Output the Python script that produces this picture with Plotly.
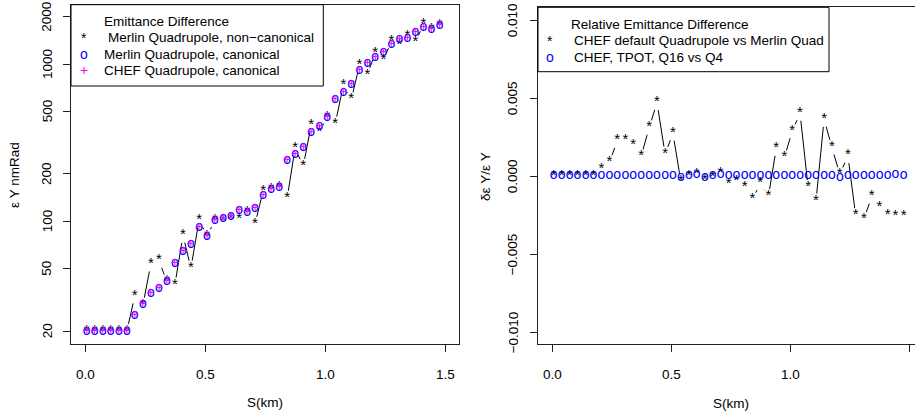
import math
import plotly.graph_objects as go

W, H = 915, 415
FONT = "Liberation Sans, Arial, Helvetica, sans-serif"

# ---------------- data ----------------
s_km = [0.006, 0.039, 0.073, 0.106, 0.140, 0.173, 0.206, 0.240, 0.273, 0.307,
        0.340, 0.373, 0.407, 0.440, 0.474, 0.507, 0.540, 0.574, 0.607, 0.641,
        0.674, 0.707, 0.741, 0.774, 0.808, 0.841, 0.874, 0.908, 0.941, 0.975,
        1.008, 1.041, 1.075, 1.108, 1.142, 1.175, 1.208, 1.242, 1.275, 1.309,
        1.342, 1.375, 1.409, 1.442, 1.476]

merlin_noncanonical = [20, 20, 20, 20, 20, 20, 33.5, 29.4, 53.5, 56.2,
                       41.4, 39.4, 81.4, 50.5, 101.8, 80.6, 101.4, 100.3, 103, 102.4,
                       113.9, 96, 156.4, 160, 164, 140.4, 291.6, 224.2, 408, 368.7,
                       460, 416, 729, 594, 977, 853, 1177, 1056, 1394, 1322,
                       1500, 1374, 1787, 1653, 1754]

merlin_canonical = [20, 20, 20, 20, 20, 20, 25.3, 29.4, 35.0, 37.3,
                    41.4, 54.0, 64.7, 71.0, 91.0, 80.6, 101.4, 104.8, 108, 117.3,
                    113.9, 121.3, 146, 160, 164, 245, 266, 296, 369, 403,
                    460, 594, 655, 736, 904, 1006, 1103, 1181, 1322, 1428,
                    1456, 1576, 1695, 1653, 1754]

chef_canonical = [20, 20, 20, 20, 20, 20, 25.3, 29.4, 35.0, 37.3,
                  41.4, 54.0, 64.7, 71.0, 91.0, 80.6, 101.4, 104.8, 108, 117.3,
                  113.9, 121.3, 146, 160, 164, 245, 266, 296, 369, 403,
                  460, 594, 655, 736, 904, 1006, 1103, 1181, 1322, 1428,
                  1456, 1576, 1695, 1653, 1754]

rel_chef_default_vs_merlin = [0, 0, 0, 0, 0, 0, 0.00043, 0.00087, 0.00226, 0.00226,
                              0.00198, 0.00124, 0.00311, 0.0047, 0.00141, 0.00274, -0.00034, 0.0, 0.00013, -0.00026,
                              -0.0001, 0.0002, -0.0005, -0.00036, -0.00073, -0.0015, -0.00047, -0.00132, 0.00177, 0.00117,
                              0.00288, 0.00402, -0.00075, -0.0016, 0.00363, 0.00184, 0.0001, 0.0013, -0.00254, -0.00278,
                              -0.00132, -0.00203, -0.00254, -0.00256, -0.0026]

rel_tpot_q16_vs_q4 = [0, 0, 0, 0, 0, 0, 0, 0, 0, 0,
                      0.00005, 0, 0, 0, 0, 0, -0.0001, 0, 0.00012, -0.0001,
                      0, 0.0001, 0, 0, 0, 0, 0, 0, 0, 0,
                      0, 0, 0, 0, 0, 0, -0.0001, 0, 0, 0,
                      0, 0, 0, 0.0001, 0]

x_tickvals = [0.0, 0.5, 1.0, 1.5]
x_ticktext = ["0.0", "0.5", "1.0", "1.5"]
left_yticks = [20, 50, 100, 200, 500, 1000, 2000]
left_yticktext = ["20", "50", "100", "200", "500", "1000", "2000"]
right_yticks = [0.01, 0.005, 0.0, -0.005, -0.01]
right_yticktext = ["0.010", "0.005", "0.000", "\u22120.005", "\u22120.010"]

left_legend = ["Emittance Difference", "Merlin Quadrupole, non\u2212canonical",
               "Merlin Quadrupole, canonical", "CHEF Quadrupole, canonical"]
right_legend = ["Relative Emittance Difference", "CHEF default Quadrupole vs Merlin Quad",
                "CHEF, TPOT, Q16 vs Q4"]

# ---------------- geometry (pixels) ----------------
LP = dict(x0=71.0, x1=459.0, y0=4.7, y1=344.3, xr=(-0.0596, 1.557), yr=(1.2184, 3.377))
RP = dict(x0=537.7, x1=915.0, y0=7.3, y1=344.3, xr=(-0.0613, 1.524), yr=(-0.010788, 0.010814))


def fx(px):
    return px / W


def fy(py):
    return 1 - py / H


def gapped(xs, ys, P, logy, gap=7.5):
    """R type='b' lines: segments shortened by a gap at each point."""
    ppx = (P["x1"] - P["x0"]) / (P["xr"][1] - P["xr"][0])
    ppy = (P["y1"] - P["y0"]) / (P["yr"][1] - P["yr"][0])
    X, Y = [], []
    for i in range(len(xs) - 1):
        ya = math.log10(ys[i]) if logy else ys[i]
        yb = math.log10(ys[i + 1]) if logy else ys[i + 1]
        dx = (xs[i + 1] - xs[i]) * ppx
        dy = (yb - ya) * ppy
        d = math.hypot(dx, dy)
        if d > 2 * gap:
            f = gap / d
            ax, ay = xs[i] + f * (xs[i + 1] - xs[i]), ya + f * (yb - ya)
            bx, by = xs[i + 1] - f * (xs[i + 1] - xs[i]), yb - f * (yb - ya)
            if logy:
                ay, by = 10 ** ay, 10 ** by
            X += [ax, bx, None]
            Y += [ay, by, None]
    return X, Y


fig = go.Figure()

# ---------- left panel ----------
lx, ly = gapped(s_km, merlin_noncanonical, LP, True)
fig.add_trace(go.Scatter(x=lx, y=ly, mode="lines", line=dict(color="black", width=1),
                         xaxis="x", yaxis="y", hoverinfo="skip", showlegend=False))
fig.add_trace(go.Scatter(x=s_km, y=merlin_noncanonical, mode="text", text=["*"] * len(s_km),
                         textfont=dict(family=FONT, size=15, color="black"),
                         xaxis="x", yaxis="y", showlegend=False))
fig.add_trace(go.Scatter(x=s_km, y=merlin_canonical, mode="text", text=["o"] * len(s_km),
                         textfont=dict(family=FONT, size=14, color="#0000FF"),
                         xaxis="x", yaxis="y", showlegend=False))
fig.add_trace(go.Scatter(x=s_km, y=chef_canonical, mode="text", text=["+"] * len(s_km),
                         textfont=dict(family=FONT, size=14, color="#FF00FF"),
                         xaxis="x", yaxis="y", showlegend=False))

# ---------- right panel ----------
rx, ry = gapped(s_km, rel_chef_default_vs_merlin, RP, False)
fig.add_trace(go.Scatter(x=rx, y=ry, mode="lines", line=dict(color="black", width=1),
                         xaxis="x2", yaxis="y2", hoverinfo="skip", showlegend=False))
fig.add_trace(go.Scatter(x=s_km, y=rel_chef_default_vs_merlin, mode="text", text=["*"] * len(s_km),
                         textfont=dict(family=FONT, size=15, color="black"),
                         xaxis="x2", yaxis="y2", showlegend=False))
fig.add_trace(go.Scatter(x=s_km, y=rel_tpot_q16_vs_q4, mode="text", text=["o"] * len(s_km),
                         textfont=dict(family=FONT, size=14, color="#0000FF"),
                         xaxis="x2", yaxis="y2", showlegend=False))

axis_common = dict(showgrid=False, zeroline=False, showline=True, linecolor="#222222",
                   linewidth=1.2, ticks="outside", ticklen=7, tickwidth=1, tickcolor="#222222",
                   tickfont=dict(family=FONT, size=13.5, color="black"))

fig.update_layout(
    width=W, height=H, margin=dict(l=0, r=0, t=0, b=0),
    paper_bgcolor="white", plot_bgcolor="white", showlegend=False,
    xaxis=dict(domain=[fx(LP["x0"]), fx(LP["x1"])], range=list(LP["xr"]), anchor="y",
               tickvals=x_tickvals, ticktext=x_ticktext, mirror=True,
               ticklabelstandoff=10, **axis_common),
    yaxis=dict(domain=[fy(LP["y1"]), fy(LP["y0"])], type="log", range=list(LP["yr"]), anchor="x",
               tickvals=left_yticks, showticklabels=False, mirror=True, **axis_common),
    xaxis2=dict(domain=[fx(RP["x0"]), fx(RP["x1"])], range=list(RP["xr"]), anchor="y2",
                tickvals=x_tickvals, ticktext=x_ticktext, mirror=True,
                ticklabelstandoff=10, **axis_common),
    yaxis2=dict(domain=[fy(RP["y1"]), fy(RP["y0"])], range=list(RP["yr"]), anchor="x2",
                tickvals=right_yticks, showticklabels=False, mirror=False, **axis_common),
)

annotations = []
shapes = []


def ann(px, py, text, size=13.5, color="black", xanchor="center", angle=0):
    annotations.append(dict(x=fx(px), y=fy(py), xref="paper", yref="paper", text=text,
                            showarrow=False, xanchor=xanchor, yanchor="middle", textangle=angle,
                            font=dict(family=FONT, size=size, color=color)))


# rotated y tick labels, placed through the axes' own scales
for v, t in zip(left_yticks, left_yticktext):
    annotations.append(dict(x=fx(47), xref="paper", y=math.log10(v), yref="y", text=t,
                            showarrow=False, xanchor="center", yanchor="middle", textangle=-90,
                            font=dict(family=FONT, size=13.5, color="black")))
for v, t in zip(right_yticks, right_yticktext):
    annotations.append(dict(x=fx(513.3), xref="paper", y=v, yref="y2", text=t,
                            showarrow=False, xanchor="center", yanchor="middle", textangle=-90,
                            font=dict(family=FONT, size=13.5, color="black")))

# axis titles
ann(265, 402, "S(km)")
ann(731, 403, "S(km)")
ann(14, 175, "\u03b5 Y nmRad", angle=-90)
ann(485, 177, "\u03b4\u03b5 Y/\u03b5 Y", angle=-90)

# left legend box
shapes.append(dict(type="rect", xref="paper", yref="paper", x0=fx(71), x1=fx(323.3),
                   y0=fy(86), y1=fy(4.7), line=dict(color="black", width=1), fillcolor="white",
                   layer="above"))
left_rows = [21.5, 37.8, 54.1, 70.4]
left_syms = [None, ("*", "black"), ("o", "#0000FF"), ("+", "#FF00FF")]
for i, (txt, yy) in enumerate(zip(left_legend, left_rows)):
    ann(101.7 if i != 1 else 105.7, yy, txt, xanchor="left")
    if left_syms[i]:
        ann(83.5, yy, left_syms[i][0], size=14, color=left_syms[i][1])

# right legend box
shapes.append(dict(type="rect", xref="paper", yref="paper", x0=fx(538), x1=fx(829),
                   y0=fy(71.7), y1=fy(7.3), line=dict(color="black", width=1), fillcolor="white",
                   layer="above"))
right_rows = [24.0, 40.6, 57.0]
right_syms = [None, ("*", "black"), ("o", "#0000FF")]
for i, (txt, yy) in enumerate(zip(right_legend, right_rows)):
    ann(568.7 if i == 0 else 572.3, yy, txt, xanchor="left")
    if right_syms[i]:
        ann(550, yy, right_syms[i][0], size=14, color=right_syms[i][1])

fig.update_layout(annotations=annotations, shapes=shapes)
fig.write_html("out.html")
